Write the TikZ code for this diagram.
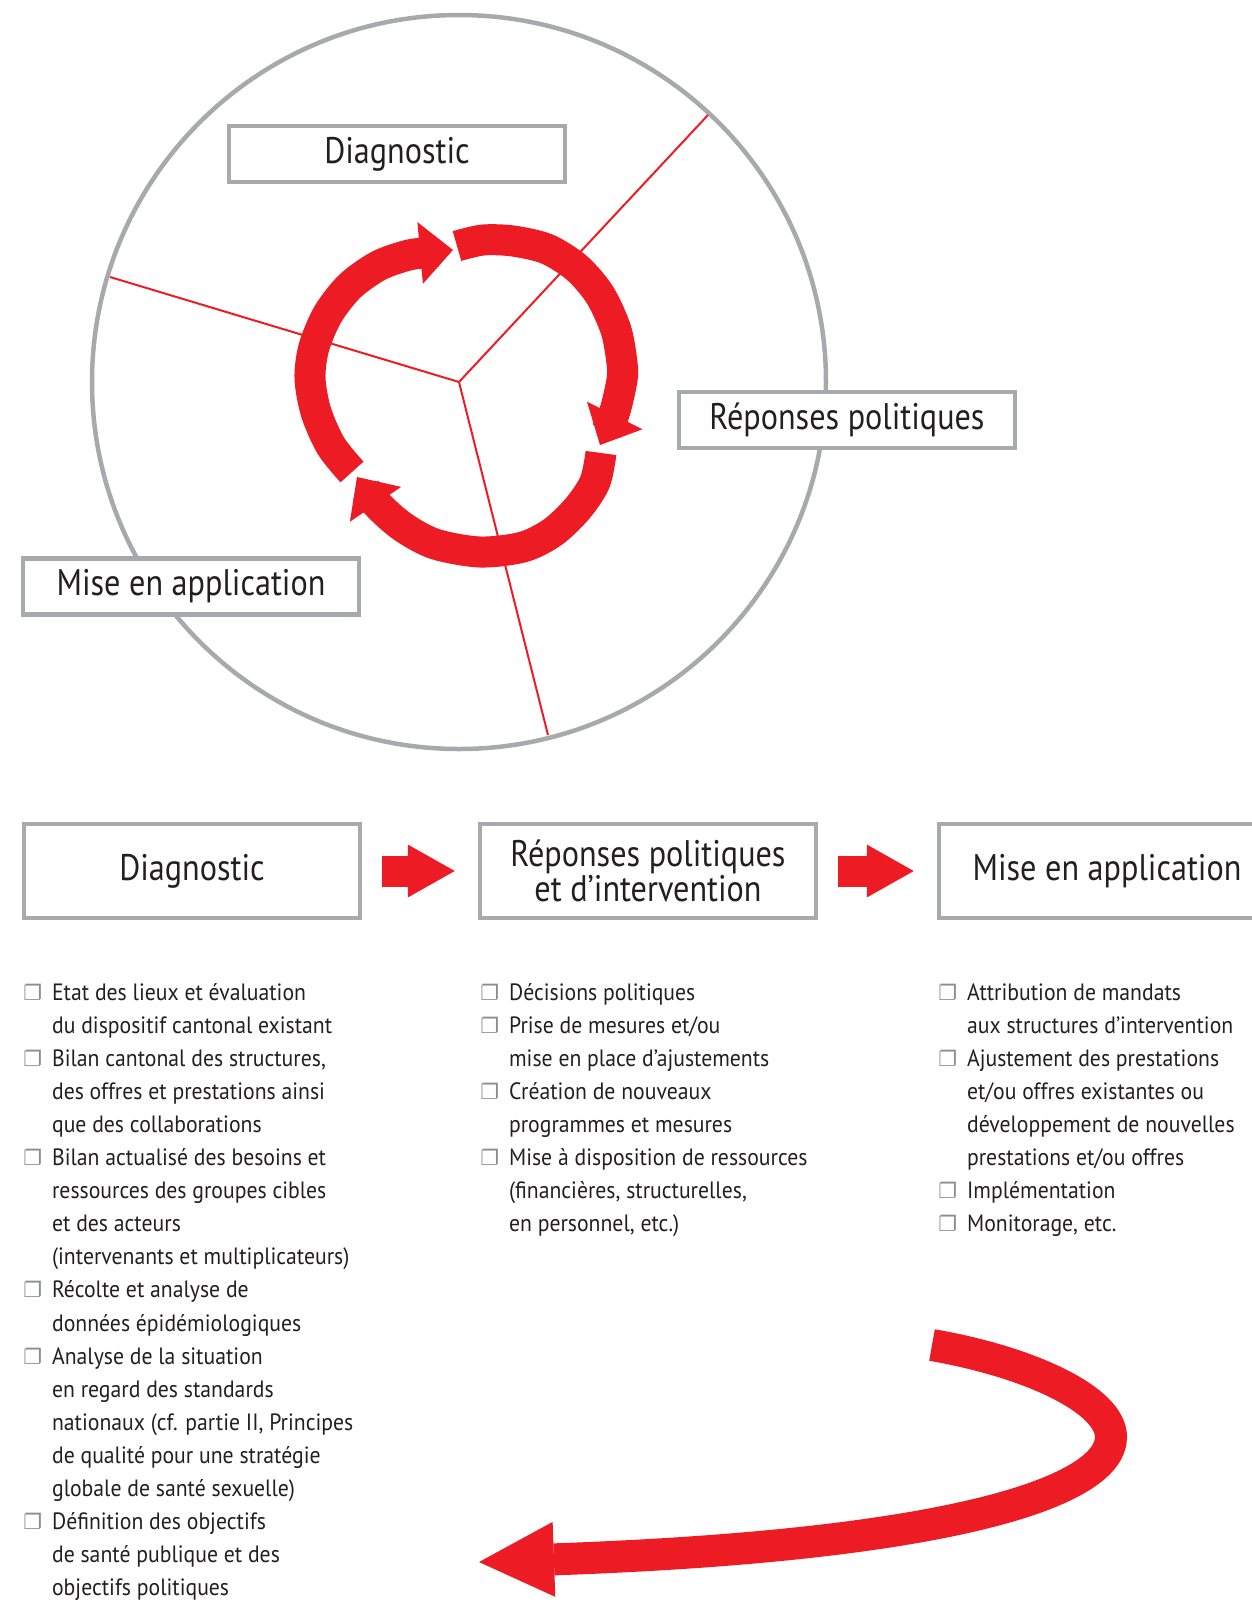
\documentclass[tikz,border=0pt]{standalone}
\usepackage{fontspec}
\setmainfont[FakeStretch=0.87]{PT Sans}
\newfontfamily\bodyfont[FakeStretch=0.92]{PT Sans}
\newfontfamily\symfont{DejaVu Sans}
\usetikzlibrary{arrows.meta}

\definecolor{cyred}{HTML}{ED1C24}
\definecolor{rimgray}{HTML}{A7A9AC}
\definecolor{txtblack}{HTML}{231F20}
\definecolor{mkgray}{HTML}{8A8C8F}

% list marker and hanging indent
\newcommand{\mk}{\makebox[14.35pt][l]{\textcolor{mkgray}{\symfont\fontsize{10.5}{10.5}\selectfont ❐}}}
\newcommand{\ind}{\hspace*{14.35pt}}

\tikzset{
  stagebox/.style={draw=rimgray, line width=2.25pt, fill=white, minimum width=168pt,
    inner sep=0pt, text=txtblack, align=center, font=\fontsize{18.5}{17.2}\selectfont},
  ringbox/.style={stagebox, minimum height=28pt},
  rowbox/.style={stagebox, minimum height=47pt},
  % anchored on the baseline of the last line
  itemlist/.style={anchor=base west, align=left, inner sep=0pt, text=txtblack,
    font=\bodyfont\fontsize{11.8}{16.55}\selectfont},
  cyclearrow/.style={draw=cyred, line width=15.5pt,
    -{Triangle[length=16.5pt, width=31pt, line width=0pt]}},
  steparrow/.style={draw=cyred, line width=15.5pt, shorten <=10pt, shorten >=11.5pt,
    -{Triangle[length=23.5pt, width=26.5pt, line width=0pt]}},
  looparrow/.style={draw=cyred, line width=16pt,
    -{Triangle[length=37.5pt, width=37.5pt, line width=0pt]}},
}

\begin{document}
\begin{tikzpicture}[x=0.5pt, y=-0.5pt]
  \clip (0,0) rectangle (1252,1602);

  % wheel
  \coordinate (hub) at (459,382);
  \draw[rimgray, line width=2.25pt] (hub) circle[radius=367];
  \draw[cyred, line width=1pt] (hub) -- (708,115);
  \draw[cyred, line width=1pt] (hub) -- (110,277);
  \draw[cyred, line width=1pt] (hub) -- (548,735);

  % cycle arrows
  \draw[cyclearrow] plot[smooth] coordinates {(352,472) (331,446) (316,412) (310,378)
    (314,347) (328,314) (350,286) (378,266) (405,256) (422,253) (453,250)};
  \draw[cyclearrow] plot[smooth] coordinates {(457,246) (483,240) (513,241) (547,249)
    (577,268) (600,295) (616,330) (622,363) (622,380) (614,414) (600,445)};
  \draw[cyclearrow] plot[smooth] coordinates {(601,453) (595,482) (578,508) (553,532)
    (523,547) (480,552) (435,544) (403,527) (377,504) (357,477)};

  \node[ringbox] (rdiag) at (397,154) {Diagnostic};
  \node[ringbox] (rrep) at (847,420) {Réponses politiques};
  \node[ringbox] (rmise) at (191,586.5) {Mise en application};

  % row of stages
  \node[rowbox] (diag) at (192,871) {Diagnostic};
  \node[rowbox] (rep) at (648,871) {Réponses politiques\\et d’intervention};
  \node[rowbox] (mise) at (1107,871) {Mise en application};
  \draw[steparrow] (diag) -- (rep);
  \draw[steparrow] (rep) -- (mise);

  \node[itemlist] (diaglist) at (23,1595.8) {%
    \mk Etat des lieux et évaluation\\
    \ind du dispositif cantonal existant\\
    \mk Bilan cantonal des structures,\\
    \ind des offres et prestations ainsi\\
    \ind que des collaborations\\
    \mk Bilan actualisé des besoins et\\
    \ind ressources des groupes cibles\\
    \ind et des acteurs\\
    \ind (intervenants et multiplicateurs)\\
    \mk Récolte et analyse de\\
    \ind données épidémiologiques\\
    \mk Analyse de la situation\\
    \ind en regard des standards\\
    \ind nationaux (cf. partie II, Principes\\
    \ind de qualité pour une stratégie\\
    \ind globale de santé sexuelle)\\
    \mk Définition des objectifs\\
    \ind de santé publique et des\\
    \ind objectifs politiques};
  \node[itemlist] (replist) at (480,1231.7) {%
    \mk Décisions politiques\\
    \mk Prise de mesures et/ou\\
    \ind mise en place d’ajustements\\
    \mk Création de nouveaux\\
    \ind programmes et mesures\\
    \mk Mise à disposition de ressources\\
    \ind (financières, structurelles,\\
    \ind en personnel, etc.)};
  \node[itemlist] (miselist) at (938,1231.7) {%
    \mk Attribution de mandats\\
    \ind aux structures d’intervention\\
    \mk Ajustement des prestations\\
    \ind et/ou offres existantes ou\\
    \ind développement de nouvelles\\
    \ind prestations et/ou offres\\
    \mk Implémentation\\
    \mk Monitorage, etc.};

  % back to the start
  \draw[looparrow] (932,1345) .. controls (1030,1362) and (1111,1400) .. (1111,1437)
    .. controls (1111,1490) and (960,1545) .. (479,1562);
\end{tikzpicture}
\end{document}
